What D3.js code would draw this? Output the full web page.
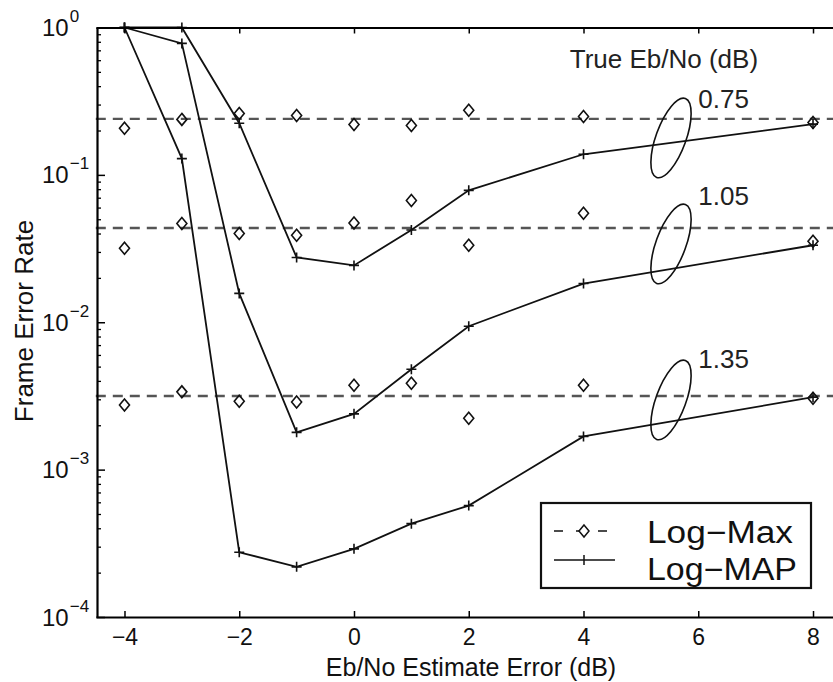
<!DOCTYPE html>
<html>
<head>
<meta charset="utf-8">
<script src="https://cdn.jsdelivr.net/npm/d3@7"></script>
<style>
  body { margin: 0; background: #fff; }
  svg { display: block; font-family: "Liberation Sans", Arial, sans-serif; }
</style>
</head>
<body>
<div id="chart"></div>
<script>
// x positions (Eb/No estimate error, dB)
var errDb = [-4, -3, -2, -1, 0, 1, 2, 4, 8];

// Log-MAP (solid, +) for true Eb/No 0.75, 1.05, 1.35 dB
var logMap075 = [1.0, 1.0, 0.224, 0.0275, 0.0243, 0.0423, 0.0785, 0.138, 0.221];
var logMap105 = [1.0, 0.78, 0.0157, 0.00179, 0.00239, 0.0048, 0.0094, 0.0183, 0.0333];
var logMap135 = [1.0, 0.129, 0.000275, 0.000219, 0.00029, 0.00043, 0.00057, 0.00168, 0.0031];

// Log-Max (diamonds) and its mean level (dashed)
var logMax075 = [0.207, 0.238, 0.261, 0.253, 0.220, 0.216, 0.274, 0.249, 0.227];
var logMax105 = [0.0318, 0.0468, 0.040, 0.0389, 0.0472, 0.0671, 0.0333, 0.0549, 0.0354];
var logMax135 = [0.00274, 0.00337, 0.00291, 0.00288, 0.00374, 0.00385, 0.00223, 0.00374, 0.00305];
var logMaxLevel = [0.24, 0.0436, 0.00316];

var trueEbNo = ["0.75", "1.05", "1.35"];
var xTicks = [-4, -2, 0, 2, 4, 6, 8];
var yDecades = [0, -1, -2, -3, -4];

// annotation anchors in data units: ellipse centre and label
var ringX = 5.525, labelX = 6.0;
var ringY = [0.178, 0.034, 0.00297];
var labelY = [0.284, 0.0624, 0.0049];

var width = 833, height = 682;

var svg = d3.select("#chart").append("svg")
    .attr("width", width)
    .attr("height", height);

var x = d3.scaleLinear().domain([-4.5, 8.5]).range([95.8, 841.7]);
var y = d3.scaleLog().domain([1e-4, 1]).range([617, 27.5]);

var sup = { "0": "0", "-1": "\u22121", "-2": "\u22122", "-3": "\u22123", "-4": "\u22124" };

// dashed Log-Max levels
svg.selectAll(".lvl")
    .data(logMaxLevel)
    .enter()
    .append("line")
    .attr("x1", x(-4.5))
    .attr("x2", width)
    .attr("y1", function (d) { return y(d); })
    .attr("y2", function (d) { return y(d); })
    .attr("stroke", "#555")
    .attr("stroke-width", 2.4)
    .attr("stroke-dasharray", "10,7");

// Log-MAP curves
var line = d3.line()
    .x(function (d) { return x(d[0]); })
    .y(function (d) { return y(d[1]); });

var mapSeries = [logMap075, logMap105, logMap135];
mapSeries.forEach(function (s) {
    var pts = errDb.map(function (e, i) { return [e, s[i]]; });
    svg.append("path")
        .attr("d", line(pts))
        .attr("fill", "none")
        .attr("stroke", "#111")
        .attr("stroke-width", 1.8);
    svg.selectAll(null)
        .data(pts)
        .enter()
        .append("path")
        .attr("d", function (d) {
            var cx = x(d[0]), cy = y(d[1]);
            return "M" + (cx - 5) + "," + cy + "H" + (cx + 5) + "M" + cx + "," + (cy - 5) + "V" + (cy + 5);
        })
        .attr("stroke", "#111")
        .attr("stroke-width", 1.6);
});

// Log-Max diamonds
function diamond(cx, cy) {
    return "M" + cx + "," + (cy - 6) + "L" + (cx + 5) + "," + cy + "L" + cx + "," + (cy + 6) + "L" + (cx - 5) + "," + cy + "Z";
}
[logMax075, logMax105, logMax135].forEach(function (s) {
    svg.selectAll(null)
        .data(errDb.map(function (e, i) { return [e, s[i]]; }))
        .enter()
        .append("path")
        .attr("d", function (d) { return diamond(x(d[0]), y(d[1])); })
        .attr("fill", "none")
        .attr("stroke", "#111")
        .attr("stroke-width", 1.6);
});

// ellipses and labels
trueEbNo.forEach(function (t, i) {
    var cx = x(ringX), cy = y(ringY[i]);
    svg.append("ellipse")
        .attr("cx", 0).attr("cy", 0)
        .attr("rx", 15).attr("ry", 42)
        .attr("transform", "translate(" + cx + "," + cy + ") rotate(20)")
        .attr("fill", "none")
        .attr("stroke", "#111")
        .attr("stroke-width", 1.6);
    svg.append("text")
        .attr("x", x(labelX))
        .attr("y", y(labelY[i]))
        .attr("font-size", 26)
        .attr("fill", "#222")
        .text(t);
});

svg.append("text")
    .attr("x", x(3.76))
    .attr("y", y(0.531))
    .attr("font-size", 26)
    .attr("fill", "#222")
    .text("True Eb/No (dB)");

// axes
svg.append("g")
    .attr("transform", "translate(0,617)")
    .call(d3.axisBottom(x).tickValues(xTicks).tickSize(-6).tickSizeOuter(0).tickPadding(12)
        .tickFormat(function (d) { return d < 0 ? "\u2212" + Math.abs(d) : d; }))
    .call(function (g) {
        g.select(".domain").attr("stroke-width", 2.2);
        g.selectAll("text").attr("font-size", 23).attr("fill", "#111").attr("font-family", "Liberation Sans, Arial");
        g.selectAll(".tick line").attr("stroke-width", 1.5);
    });

svg.append("g")
    .attr("transform", "translate(0,27.5)")
    .call(d3.axisTop(x).tickValues(xTicks).tickSize(-6).tickSizeOuter(0).tickFormat(""))
    .call(function (g) {
        g.select(".domain").attr("stroke-width", 2.2);
        g.selectAll(".tick line").attr("stroke-width", 1.5);
    });

var minor = [];
yDecades.slice(1).forEach(function (k) {
    for (var m = 2; m <= 9; m++) minor.push(m * Math.pow(10, k));
});

svg.append("g")
    .attr("transform", "translate(97,0)")
    .call(d3.axisLeft(y).tickValues(minor).tickSize(-4).tickSizeOuter(0).tickFormat(""))
    .call(function (g) {
        g.select(".domain").remove();
        g.selectAll(".tick line").attr("stroke-width", 1.3);
    });

svg.append("g")
    .attr("transform", "translate(97,0)")
    .call(d3.axisLeft(y).tickValues(yDecades.map(function (k) { return Math.pow(10, k); }))
        .tickSize(-8).tickSizeOuter(0).tickFormat(""))
    .call(function (g) {
        g.select(".domain").attr("stroke-width", 2.2);
        g.selectAll(".tick line").attr("stroke-width", 1.5);
    });

var yl = svg.selectAll(".ylab")
    .data(yDecades)
    .enter()
    .append("text")
    .attr("x", 42)
    .attr("y", function (d) { return y(Math.pow(10, d)) + 8.5; })
    .attr("font-size", 24)
    .attr("fill", "#111");
yl.append("tspan").text("10");
yl.append("tspan")
    .attr("dy", -14)
    .attr("dx", 1)
    .attr("font-size", 17)
    .text(function (d) { return sup[String(d)]; });

// axis titles
svg.append("text")
    .attr("x", 471)
    .attr("y", 676)
    .attr("text-anchor", "middle")
    .attr("font-size", 25)
    .attr("fill", "#111")
    .text("Eb/No Estimate Error (dB)");

svg.append("text")
    .attr("transform", "translate(33,321) rotate(-90)")
    .attr("text-anchor", "middle")
    .attr("font-size", 26)
    .attr("fill", "#111")
    .text("Frame Error Rate");

// legend
var leg = svg.append("g");
leg.append("rect")
    .attr("x", 541).attr("y", 503)
    .attr("width", 270).attr("height", 85)
    .attr("fill", "#fff")
    .attr("stroke", "#111")
    .attr("stroke-width", 2.2);
leg.append("line")
    .attr("x1", 554).attr("x2", 607).attr("y1", 531).attr("y2", 531)
    .attr("stroke", "#111").attr("stroke-width", 1.5).attr("stroke-dasharray", "9,13");
leg.append("path").attr("d", diamond(584, 531))
    .attr("fill", "#fff").attr("stroke", "#111").attr("stroke-width", 1.5);
leg.append("line")
    .attr("x1", 554).attr("x2", 615).attr("y1", 560).attr("y2", 560)
    .attr("stroke", "#111").attr("stroke-width", 1.5);
leg.append("path").attr("d", "M584,555V565")
    .attr("stroke", "#111").attr("stroke-width", 1.5);
leg.append("text").attr("x", 647).attr("y", 543)
    .attr("font-size", 31).attr("fill", "#111")
    .attr("textLength", 146).attr("lengthAdjust", "spacingAndGlyphs")
    .text("Log\u2212Max");
leg.append("text").attr("x", 647).attr("y", 580)
    .attr("font-size", 31).attr("fill", "#111")
    .attr("textLength", 150).attr("lengthAdjust", "spacingAndGlyphs")
    .text("Log\u2212MAP");
</script>
</body>
</html>
